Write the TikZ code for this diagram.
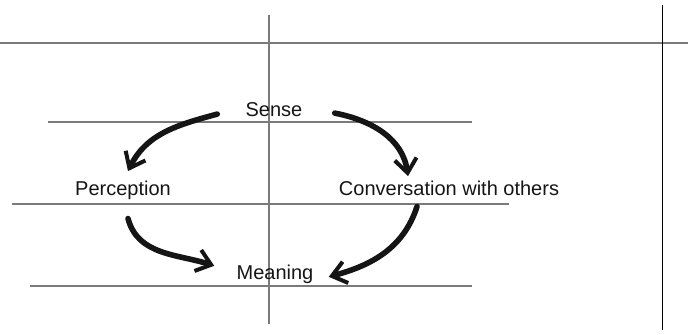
\documentclass[tikz,border=0pt]{standalone}
\usepackage{fontspec}
\setmainfont{Liberation Sans}
\usetikzlibrary{arrows.meta,calc}
\definecolor{ruleGray}{HTML}{7A7A7A}
\definecolor{inkBlack}{HTML}{151515}
\tikzset{
  cycleLabel/.style={
    anchor=base,
    inner sep=0pt,
    font=\fontsize{10}{12}\selectfont,
    text=inkBlack
  },
  ruleLine/.style={draw=ruleGray, line width=0.6pt},
  frameLine/.style={draw=black, line width=0.5pt},
  brushArrow/.style={
    -{Straight Barb[length=7pt,width=11pt,line width=2pt]},
    line width=2.8pt,
    line cap=round,
    inkBlack
  }
}

\begin{document}
\begin{tikzpicture}[x=0.5pt,y=0.5pt]
  \useasboundingbox (0,0) rectangle (688,335);
  \draw[ruleLine] (0,292) -- (688,292);
  \draw[ruleLine] (269,320) -- (269,11);
  \draw[frameLine] (662,330) -- (662,5);
  \draw[ruleLine] (48,213) -- (472,213);
  \draw[ruleLine] (12,131) -- (509,131);
  \draw[ruleLine] (30,49) -- (472,49);

  \node[cycleLabel] (sense) at (274,218) {Sense};
  \node[cycleLabel] (perc) at (123,139) {Perception};
  \node[cycleLabel] (conv) at (449,139) {Conversation with others};
  \node[cycleLabel] (mean) at (275,55) {Meaning};

  \draw[brushArrow] ($(sense.west)+(-28,-4)$) to[out=195,in=64] ($(perc.north)+(5,10)$);
  \draw[brushArrow] ($(perc.south)+(5,-18)$) to[out=285,in=162] ($(mean.west)+(-22,9)$);
  \draw[brushArrow] ($(sense.east)+(32,-3)$) to[out=-11,in=98] ($(conv.north)+(-41,5)$);
  \draw[brushArrow] ($(conv.south)+(-32,-10)$) to[out=252,in=15] ($(mean.east)+(15,-2)$);
\end{tikzpicture}
\end{document}
